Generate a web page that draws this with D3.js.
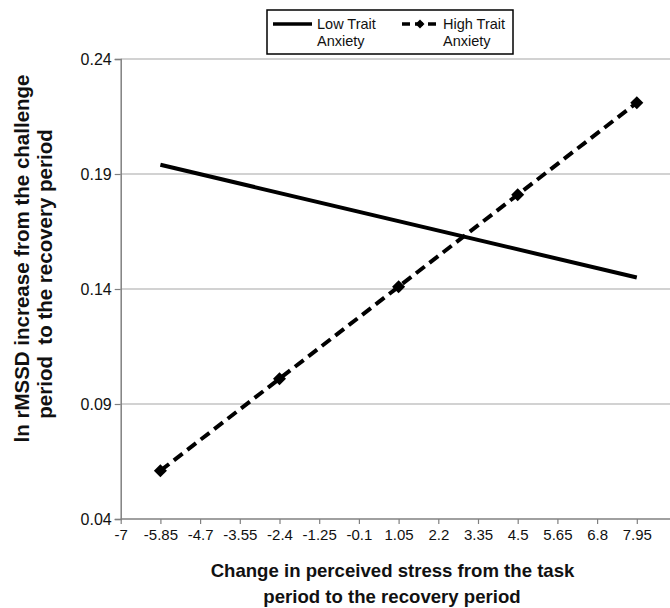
<!DOCTYPE html>
<html>
<head>
<meta charset="utf-8">
<script src="https://cdn.jsdelivr.net/npm/d3@7"></script>
<style>
  body { margin: 0; background: #fff; }
  svg { display: block; font-family: "Liberation Sans", Arial, sans-serif; }
</style>
</head>
<body>
<div id="chart"></div>
<script>
var xTicks = [-7, -5.85, -4.7, -3.55, -2.4, -1.25, -0.1, 1.05, 2.2, 3.35, 4.5, 5.65, 6.8, 7.95];
var yTicks = [0.04, 0.09, 0.14, 0.19, 0.24];

var lowX = [-5.85, 7.95];
var lowY = [0.194, 0.145];

var highX = [-5.85, -2.4, 1.05, 4.5, 7.95];
var highY = [0.061, 0.101, 0.141, 0.181, 0.221];

function init() {
    var w = 670;
    var h = 608;

    var svg = d3.select("#chart")
                .append("svg")
                .attr("width", w)
                .attr("height", h);

    var x = d3.scaleLinear()
              .domain([-7, 9.1])
              .range([120.7, 676.5]);
    var y = d3.scaleLinear()
              .domain([0.04, 0.24])
              .range([519, 59]);

    // gridlines
    svg.append("g")
       .selectAll("line")
       .data(yTicks.slice(1))
       .enter()
       .append("line")
       .attr("x1", x(-7))
       .attr("x2", w)
       .attr("y1", function(d) { return y(d); })
       .attr("y2", function(d) { return y(d); })
       .attr("stroke", "#a6a6a6")
       .attr("stroke-width", 1.2);

    var yAxis = svg.append("g")
                   .attr("transform", "translate(" + x(-7) + ",0)")
                   .call(d3.axisLeft(y)
                           .tickValues(yTicks)
                           .tickSize(6)
                           .tickPadding(3)
                           .tickFormat(d3.format(".2f")));

    var xAxis = svg.append("g")
                   .attr("transform", "translate(0," + y(0.04) + ")")
                   .call(d3.axisBottom(x)
                           .tickValues(xTicks)
                           .tickSize(5)
                           .tickPadding(5)
                           .tickFormat(function(d) { return String(d); }));

    xAxis.select(".domain").attr("d", "M" + x(-7) + ",0H" + w);

    [xAxis, yAxis].forEach(function(a) {
        a.select(".domain").attr("stroke", "#808080").attr("stroke-width", 1.5);
        a.selectAll(".tick line").attr("stroke", "#808080").attr("stroke-width", 1.2);
        a.selectAll(".tick text")
         .attr("fill", "#111")
         .style("font-family", "'Liberation Sans', Arial, sans-serif");
    });
    xAxis.selectAll(".tick text").style("font-size", "15px");
    yAxis.selectAll(".tick text").style("font-size", "16px");

    var line = d3.line()
                 .x(function(d) { return x(d[0]); })
                 .y(function(d) { return y(d[1]); });

    var lowData = lowX.map(function(d, i) { return [d, lowY[i]]; });
    var highData = highX.map(function(d, i) { return [d, highY[i]]; });

    svg.append("path")
       .attr("d", line(lowData))
       .attr("fill", "none")
       .attr("stroke", "#000")
       .attr("stroke-width", 4);

    svg.append("path")
       .attr("d", line(highData))
       .attr("fill", "none")
       .attr("stroke", "#000")
       .attr("stroke-width", 4)
       .attr("stroke-dasharray", "11,6");

    var marker = d3.symbol().type(d3.symbolSquare).size(85);
    svg.selectAll("path.pt")
       .data(highData)
       .enter()
       .append("path")
       .attr("class", "pt")
       .attr("d", marker)
       .attr("transform", function(d) {
           return "translate(" + x(d[0]) + "," + y(d[1]) + ") rotate(45)";
       })
       .attr("fill", "#000");

    // axis titles
    var xt = svg.append("text")
                .attr("text-anchor", "middle")
                .attr("font-weight", "bold")
                .style("font-size", "18.6px")
                .attr("fill", "#111");
    xt.append("tspan").attr("x", 392.5).attr("y", 577)
      .text("Change in perceived stress from the task");
    xt.append("tspan").attr("x", 392).attr("y", 603)
      .text("period to the recovery period");

    svg.append("text")
       .attr("transform", "translate(29,258.5) rotate(-90)")
       .attr("text-anchor", "middle")
       .attr("font-weight", "bold")
       .style("font-size", "20.5px")
       .attr("fill", "#111")
       .text("ln rMSSD increase from the challenge");
    svg.append("text")
       .attr("transform", "translate(52,274) rotate(-90)")
       .attr("text-anchor", "middle")
       .attr("font-weight", "bold")
       .style("font-size", "20.5px")
       .attr("fill", "#111")
       .style("white-space", "pre")
       .text("period  to the recovery period");

    // legend
    var lg = svg.append("g");
    lg.append("rect")
      .attr("x", 267).attr("y", 10)
      .attr("width", 246).attr("height", 44)
      .attr("fill", "#fff")
      .attr("stroke", "#000")
      .attr("stroke-width", 1.5);
    lg.append("line")
      .attr("x1", 273).attr("x2", 312)
      .attr("y1", 24).attr("y2", 24)
      .attr("stroke", "#000").attr("stroke-width", 3.5);
    lg.append("line")
      .attr("x1", 402).attr("x2", 440)
      .attr("y1", 24).attr("y2", 24)
      .attr("stroke", "#000").attr("stroke-width", 3.5)
      .attr("stroke-dasharray", "8,5");
    lg.append("path")
      .attr("d", d3.symbol().type(d3.symbolSquare).size(40))
      .attr("transform", "translate(420,24) rotate(45)")
      .attr("fill", "#000");
    var names = [["Low Trait", "Anxiety", 317], ["High Trait", "Anxiety", 443]];
    names.forEach(function(n) {
        var t = lg.append("text")
                  .style("font-size", "14.5px")
                  .attr("fill", "#111");
        t.append("tspan").attr("x", n[2]).attr("y", 29).text(n[0]);
        t.append("tspan").attr("x", n[2]).attr("y", 46).text(n[1]);
    });
}
window.onload = init;
</script>
</body>
</html>
